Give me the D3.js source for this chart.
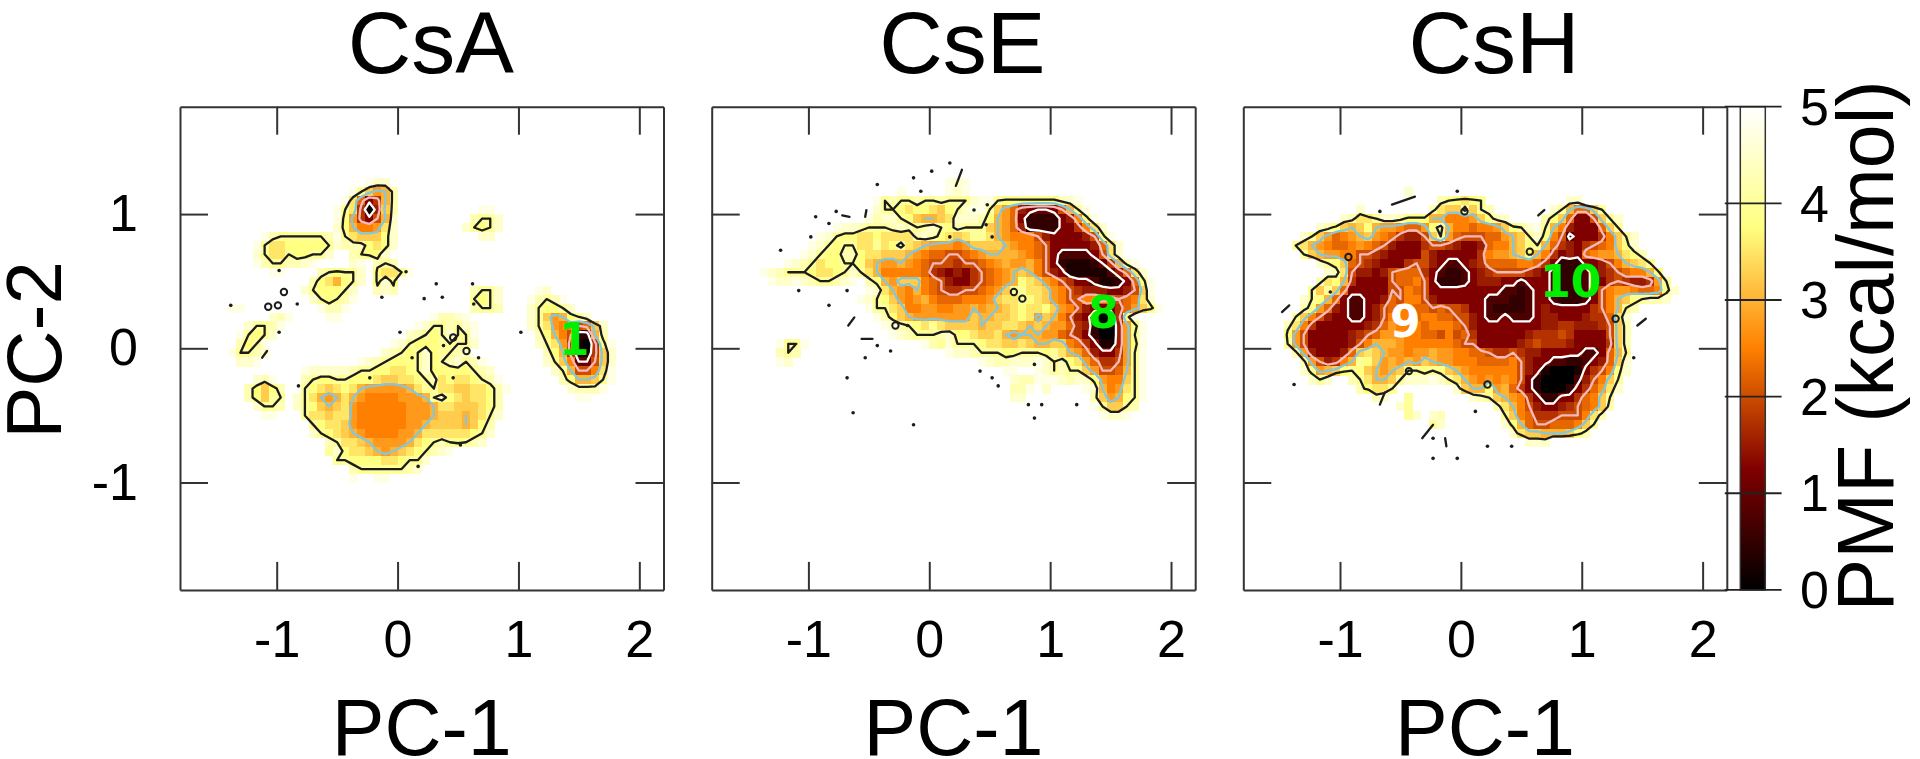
<!DOCTYPE html>
<html>
  <head>
    <meta charset="utf-8" />
    <title>PMF maps</title>
    <script src="https://d3js.org/d3.v7.min.js"></script>
    <style>
      html, body { margin: 0; background: #fff; }
      svg { display: block; }
      text { font-family: "Liberation Sans", sans-serif; fill: #000; }
      .frame path, .frame line { stroke: #333; stroke-width: 2; }
      .marker { font-family: "DejaVu Sans", sans-serif; font-weight: bold; font-size: 44px; text-anchor: middle; }
    </style>
  </head>
  <body>
    <svg id="chart" width="1920" height="759"></svg>
    <script>
      // PMF cells. Each entry is [row, first column, letters],
      // a = 0 kcal/mol and each next letter adds 0.25. Row 0 is the top of the panel.
      const csaCells = [
        [8,23,"tss"],[9,21,"tqnlmr"],[10,20,"tojfhmr"],[11,19,"tqohagnr"],[11,37,"tt"],[12,19,"tplhfims"],[12,36,"rqqs"],
        [13,19,"spmkklos"],[13,35,"sqpqs"],
        [14,10,"trqqqqqqrt"],[14,20,"qonnnps"],[14,37,"ss"],[15,9,"tqoopppppqs"],[15,20,"rrrpops"],
        [16,9,"sqooqppqqs"],[16,21,"rqpps"],[17,9,"trqqrrst"],[17,21,"st"],[17,24,"rqr"],
        [18,11,"tt"],[18,17,"rqpqqs"],[18,24,"pooqt"],[19,16,"rpompqs"],[19,24,"psp"],
        [20,15,"sqpppqs"],[20,24,"rsr"],[20,36,"rqqs"],[20,44,"ts"],[21,16,"sqpqrt"],[21,36,"qpqs"],[21,43,"trqrt"],
        [22,6,"tt"],[22,17,"trrt"],[22,36,"rqqr"],[22,43,"sqppqs"],
        [23,11,"srt"],[23,18,"tt"],[23,31,"trrst"],[23,43,"sqnlmpqs"],
        [24,8,"sqqrt"],[24,29,"tsqqrqst"],[24,43,"sqolkkijns"],
        [25,7,"tqpqs"],[25,28,"srqpqsqqt"],[25,44,"rpmkiccmr"],
        [26,7,"rpqt"],[26,26,"tsqpppqqqqs"],[26,44,"sqolhbahpt"],
        [27,6,"tqqrs"],[27,25,"srqpqspqqrs"],[27,45,"rpmhbbhns"],
        [28,7,"sst"],[28,22,"tsrqpppqspqrsqrt"],[28,45,"sqnkeeins"],
        [29,15,"tsssssrqqppoopqspppppqrs"],[29,46,"sqmiikot"],
        [30,9,"srt"],[30,15,"rqppqqppponnoopqropoopqrt"],[30,47,"rpmmnqt"],
        [31,8,"rpnpr"],[31,15,"qponopomlllllmoqqoonnooprt"],[31,48,"srrrt"],
        [32,8,"rpnqq"],[32,14,"sqomlmomlkkkklllmqrponoopr"],[32,49,"tt"],
        [33,9,"sqqr"],[33,14,"sqpnmnolkkkkkklllmoonnnopr"],
        [34,10,"tt"],[34,15,"qoonoolkkkkkklllmnnnmnoqs"],
        [35,16,"qpoonlkkkkkkllmnnnnmnpr"],[36,16,"sqponmlkkkkllmoooooopqs"],
        [37,18,"rqoonmllllmopqrqpqrs"],[38,18,"qspoonmlmnopqrst"],[39,19,"qqppppoopqqs"],
        [40,21,"rqqqqqqrs"],[41,21,"t"],[41,24,"tt"]
      ];
      const cseCells = [
        [8,29,"tst"],[9,23,"t"],[9,29,"tst"],
        [10,20,"tqrqqrqqrqqqst"],[10,34,"tqppppppprst"],
        [11,20,"sqqpopponpqsttqnljgfeefimqt"],
        [12,19,"trssqpnmmnosssrpmljfccccfgkpt"],
        [13,15,"tssrqqqrsrqrsqprqqqnmljgccccffhkos"],
        [14,13,"tsqppoopoooorsrponoqqomlkkkigffffgipt"],
        [15,12,"tsqpqqooqopronmlllklnnnnmlkkjifffffgjos"],
        [16,11,"tsqpprrpoonnnmlkjjiijklmmmmlkjifddddfios"],
        [17,9,"tsrqoppqqpnmllmlkjiiihiijklmllmkifcbbbcehmrt"],
        [18,6,"tsrqqqpoopqsqomkkkkkjhgfgfhijklmnmkigfbbbbbdgjos"],
        [19,7,"tsstsrqqrst"],[19,19,"rpmlnnnkjigffhijklmponlkihffdbbcfjpt"],
        [20,19,"tsomlkmkjihhiijklnqqoonlkihgggffgint"],
        [21,18,"tsqpnlklmkjjjkkklnooqponlkiikkjjijkos"],
        [22,19,"tqqonkkllkkllmlmmnopoopnlkigfffhjlnpt"],
        [23,20,"trpnmlllllllnmmnnopolnmkigfcabhpt"],
        [24,21,"tsrqpoqonnnnmnnoonmnmlljhgcaaglpt"],
        [25,22,"tsrqqqrspponnomlmmmlljihfcaaglqt"],
        [26,8,"tqqt"],[26,26,"trqsqqqpoonnonmmnnkjhfbbglpt"],
        [27,8,"rqr"],[27,29,"tssrqqqppqqqpqomljgffhlqt"],
        [28,8,"ts"],[28,33,"tsrrssstsqrpoljhhilqt"],
        [29,36,"tt"],[29,40,"tsqrqqnliijmqt"],
        [30,37,"srrtttsrssplkknqt"],
        [31,37,"rrt"],[31,41,"s"],[31,46,"tsmkloqt"],
        [32,37,"ss"],[32,47,"rnlmpqt"],[33,47,"tqnnqr"],[34,48,"tsst"]
      ];
      const cshCells = [
        [9,20,"s"],[10,24,"rqpopq"],[10,40,"ss"],
        [11,14,"s"],[11,23,"ronnrnqr"],[11,38,"sqmjjnq"],
        [12,12,"srooqssrpppmmkkklnprs"],[12,37,"rpnjffinqs"],
        [13,9,"srpnmnpmllkjjlprmkkjkklnpqstqmkgfffjnq"],
        [14,7,"sqnljklmnlkjhgginqljiiijjlmnqspkidfffhknqs"],
        [15,6,"qomlkjjklkjigfffhiihgffgjkkmnpqmjhgfhijknps"],
        [16,7,"qnmllkkiihgffffigfffffhkllmnpmkhfgfjkllmopr"],
        [17,9,"sqpnjihgfffhiigfddfghjjjjkkjhfcccffgikmnoq"],
        [18,10,"sroiggfgijjjhfdccdfghiiiihgfdcccdfghijkkmp"],
        [19,9,"ropmhffffijjkifcccdfgggffdfffdcccdffhihgghlq"],
        [20,8,"qnqnjfffffiikjifffffffffddcdffdcccdfikllkjjkps"],
        [21,7,"sqpmjfddffgjikkigffffffdddccdffdcccdfikmnpqrrs"],
        [22,7,"rpljgfddfgijkkjjijiihffdccccdfgfffffhikmqr"],
        [23,6,"qnkigffddfgikkkjkkjjiigfddfdddfggfffghhjos"],
        [24,5,"rokhffffffghjlkkkjkkkjigffffffffgghhggghinr"],
        [25,5,"plifffffghijlllkkjjikijhffffffghhhihffffinr"],
        [26,5,"qlifffffgikmmmlkkkkkkjiifffffghihhhgffffhnr"],
        [27,6,"rlgfffgjnonmllkllmllkkjjihhihggfffffddfjmq"],
        [28,7,"rlighkmqpnlmlmlnmllkkkjjjjkigffddccdfgjns"],
        [29,7,"splmnpqpnmlmnqqpqpnmlkkkkkkigfbaaabfhikps"],
        [30,8,"sqs"],[30,13,"rqommnqssstsqomlklklkifcaaaadgiknq"],
        [31,14,"rpooq"],[31,26,"snmmplmjhfcaaacfhjlos"],
        [32,16,"rs"],[32,20,"q"],[32,28,"srqnmlkhfccffhjknq"],
        [33,19,"sq"],[33,31,"romkigffghijknr"],
        [34,20,"qs"],[34,23,"sr"],[34,32,"qnkjhhhiiikor"],
        [35,23,"qs"],[35,32,"spmjiijjjknq"],
        [36,33,"sonnmmmnpr"],[37,35,"sss"]
      ];

      // tiny closed contours too small for the cell grid, in PC-1, PC-2 units
      const csaDots = [[-.98,.58],[.07,.57],[.32,.48],[.62,.48],[-.13,.38],[.22,.37],[.37,.38],[.63,.33],[-1.38,.32],[-.83,.33],[.02,.12],[-.98,.12],[1.02,.12],[.38,.02],[.12,-.07],[.67,-.07],[-.23,-.22],[.46,-.22],[-.82,-.28],[.52,-.72],[.17,-.88]];
      const csaRings = [[-.94,.42],[-1.07,.31],[-.99,.32],[.46,.08],[.57,-.02]];
      const csaDashes = [[-1.12,-.07,-1.08,-.02]];
      const cseDots = [[.17,1.38],[.02,1.32],[-.13,1.27],[-.43,1.22],[-.07,1.17],[.37,1.03],[.48,1.07],[-.94,.98],[-.77,1.02],[-.83,.93],[-.98,.83],[.47,.92],[.17,.83],[.52,.83],[-1.23,.73],[-1.08,.43],[-.68,.43],[-.83,.32],[-.18,.17],[-.53,-.07],[-.43,.02],[-.32,-.02],[.42,-.17],[.52,-.22],[.57,-.28],[-.68,-.22],[.87,-.12],[.82,-.42],[.93,-.42],[1.22,-.42],[.87,-.52],[-.63,-.48],[-.13,-.57]];
      const cseRings = [[.70,.42],[.77,.37],[-.28,.17]];
      const cseDashes = [[.27,1.33,.22,1.21],[-.52,1.03,-.53,.98],[-.67,.17,-.62,.23],[-.56,.07,-.47,.07],[-.72,.99,-.66,.98]];
      const cshDots = [[-.03,1.17],[-.67,1.02],[-1.38,-.27],[1.43,-.07],[-.23,-.67],[.12,-.47],[.22,-.73],[.42,-.73],[-.23,-.82],[-.03,-.82],[-1.08,.42]];
      const cshRings = [[.57,.72],[.03,1.02],[.22,-.27],[1.28,.22],[-.43,-.17],[-.93,.68]];
      const cshDashes = [[-.57,1.07,-.38,1.13],[.64,.99,.69,1.03],[-1.48,.27,-1.42,.32],[1.46,.17,1.53,.22],[-.13,-.67,-.12,-.73],[-.32,-.67,-.23,-.57],[-.67,-.42,-.63,-.33]];

      const panelNames = ["CsA", "CsE", "CsH"];
      const xTicks = [-1, 0, 1, 2];
      const yTicks = [-1, 0, 1];
      const barTicks = [0, 1, 2, 3, 4, 5];
      const contourLevels = [4, 3, 2, 1];
      const contourColors = ["#1c1c1c", "#85c6d8", "#f6b9bd", "#ffffff"];

      const csaMarkers = [{ name: "1", x: 1.46, y: 0.07, color: "#00ee00" }];
      const cseMarkers = [{ name: "8", x: 1.44, y: 0.27, color: "#00ee00" }];
      const cshMarkers = [{ name: "9", x: -0.46, y: 0.2, color: "#ffffff" },
                          { name: "10", x: 0.91, y: 0.5, color: "#00ee00" }];

      const nCols = 60, nRows = 54;
      const panelLefts = [180, 711.7, 1243.3];
      const panelWidth = 483.5;
      const plotTop = 106.7, plotBottom = 589.9;

      const svg = d3.select("#chart");

      const defs = svg.append("defs");
      defs.append("filter").attr("id", "soft")
          .append("feGaussianBlur").attr("stdDeviation", 0.7);
      defs.append("filter").attr("id", "softer")
          .append("feGaussianBlur").attr("stdDeviation", 0.35);

      // afmhot-like palette, 0 to 5 kcal/mol
      const pmfStops = [0, 1.25, 2.5, 3.75, 5];
      const pmfColors = ["#000000", "#800000", "#ff8000", "#ffff80", "#ffffff"];
      const color = d3.scaleLinear().domain(pmfStops).range(pmfColors).clamp(true);

      const y = d3.scaleLinear().domain([1.8, -1.8]).range([plotTop, plotBottom]);
      const rowY = d3.scaleLinear().domain([0, nRows]).range([plotTop, plotBottom]);

      function drawPanel(index, cells, dots, rings, dashes, markers) {
        const left = panelLefts[index];
        const x = d3.scaleLinear().domain([-1.8, 2.2]).range([left, left + panelWidth]);
        const colX = d3.scaleLinear().domain([0, nCols]).range([left, left + panelWidth]);

        // expand cells to a full grid, empty cells are above the colour range
        const grid = new Array(nCols * nRows).fill(6);
        const filled = [];
        cells.forEach(([row, col, letters]) => {
          for (let i = 0; i < letters.length; i++) {
            const v = (letters.charCodeAt(i) - 97) * 0.25;
            grid[row * nCols + col + i] = v;
            filled.push({ row, col: col + i, v });
          }
        });

        svg.append("g").attr("filter", "url(#soft)")
           .attr("shape-rendering", "crispEdges")
           .selectAll("rect").data(filled).enter().append("rect")
             .attr("x", d => colX(d.col))
             .attr("y", d => rowY(d.row))
             .attr("width", colX(1) - colX(0) + 0.5)
             .attr("height", rowY(1) - rowY(0) + 0.5)
             .attr("fill", d => color(d.v));

        // contours are built on the negated field so that low PMF is "inside"
        const contours = d3.contours().size([nCols, nRows]);
        const project = d3.geoTransform({
          point(px, py) { this.stream.point(colX(px), rowY(py)); }
        });
        const path = d3.geoPath(project);
        const negated = grid.map(v => -v);

        const lines = svg.append("g").attr("fill", "none").attr("stroke-width", 2.3)
                         .attr("stroke-linejoin", "round").attr("filter", "url(#softer)");
        contourLevels.forEach((level, i) => {
          lines.append("path")
               .attr("d", path(contours.contour(negated, -level)))
               .attr("stroke", contourColors[i]);
        });

        const speck = svg.append("g").attr("filter", "url(#softer)");
        speck.selectAll("circle.dot").data(dots).enter().append("circle")
             .attr("class", "dot").attr("cx", d => x(d[0])).attr("cy", d => y(d[1]))
             .attr("r", 1.8).attr("fill", contourColors[0]);
        speck.selectAll("circle.ring").data(rings).enter().append("circle")
             .attr("class", "ring").attr("cx", d => x(d[0])).attr("cy", d => y(d[1]))
             .attr("r", 3.2).attr("fill", "none").attr("stroke", contourColors[0]).attr("stroke-width", 2);
        speck.selectAll("line").data(dashes).enter().append("line")
             .attr("x1", d => x(d[0])).attr("y1", d => y(d[1]))
             .attr("x2", d => x(d[2])).attr("y2", d => y(d[3]))
             .attr("stroke", contourColors[0]).attr("stroke-width", 2.3).attr("stroke-linecap", "round");

        svg.append("g").selectAll("text").data(markers).enter().append("text")
           .attr("class", "marker")
           .attr("x", d => x(d.x)).attr("y", d => y(d.y)).attr("dy", "0.36em")
           .style("fill", d => d.color)
           .text(d => d.name);

        // frame: ticks point inwards on all four sides
        const bottomAxis = d3.axisBottom(x).tickValues(xTicks).tickSizeInner(-28).tickSizeOuter(0)
                             .tickPadding(30).tickFormat(d => d);
        const topAxis = d3.axisTop(x).tickValues(xTicks).tickSizeInner(-28).tickSizeOuter(0).tickFormat("");
        const leftAxis = d3.axisLeft(y).tickValues(yTicks).tickSizeInner(-28).tickSizeOuter(0)
                           .tickPadding(42).tickFormat(d => d);
        const rightAxis = d3.axisRight(y).tickValues(yTicks).tickSizeInner(-28).tickSizeOuter(0).tickFormat("");

        const g = svg.append("g").attr("class", "frame");
        g.append("g").attr("transform", `translate(0,${plotBottom})`).call(bottomAxis);
        g.append("g").attr("transform", `translate(0,${plotTop})`).call(topAxis);
        g.append("g").attr("transform", `translate(${left},0)`).call(index === 0 ? leftAxis : leftAxis.tickFormat(""));
        g.append("g").attr("transform", `translate(${left + panelWidth},0)`).call(rightAxis);
        g.selectAll("text").style("font-size", "52px").style("font-family", "'Liberation Sans', sans-serif").style("fill", "#000");

        svg.append("text").attr("x", left + panelWidth / 2 + 9).attr("y", 73)
           .attr("text-anchor", "middle").style("font-size", "88px").text(panelNames[index]);
        svg.append("text").attr("x", left + panelWidth / 2).attr("y", 755)
           .attr("text-anchor", "middle").style("font-size", "79px").text("PC-1");
      }

      drawPanel(0, csaCells, csaDots, csaRings, csaDashes, csaMarkers);
      drawPanel(1, cseCells, cseDots, cseRings, cseDashes, cseMarkers);
      drawPanel(2, cshCells, cshDots, cshRings, cshDashes, cshMarkers);

      svg.append("text")
         .attr("transform", `translate(61,350) rotate(-90)`)
         .attr("text-anchor", "middle").style("font-size", "78px").text("PC-2");

      // colour bar
      const barY = d3.scaleLinear().domain([0, 5]).range([plotBottom, plotTop]);
      const gradient = defs.append("linearGradient").attr("id", "pmfBar")
                           .attr("x1", 0).attr("y1", 1).attr("x2", 0).attr("y2", 0);
      pmfStops.forEach((s, i) => {
        gradient.append("stop").attr("offset", s / 5).attr("stop-color", pmfColors[i]);
      });
      svg.append("rect").attr("x", 1740.3).attr("y", plotTop).attr("width", 25).attr("height", plotBottom - plotTop)
         .attr("fill", "url(#pmfBar)").attr("stroke", "#333").attr("stroke-width", 1.5);
      svg.append("g").selectAll("line").data(barTicks).enter().append("line")
         .attr("x1", 1724.8).attr("x2", 1781.6)
         .attr("y1", d => barY(d)).attr("y2", d => barY(d))
         .attr("stroke", "#222").attr("stroke-width", 1.8);
      svg.append("g").selectAll("text").data(barTicks).enter().append("text")
         .attr("x", 1800).attr("y", d => barY(d)).attr("dy", "0.35em")
         .style("font-size", "52px").text(d => d);
      svg.append("text")
         .attr("transform", `translate(1893,346) rotate(-90)`)
         .attr("text-anchor", "middle").style("font-size", "79px").text("PMF (kcal/mol)");
    </script>
  </body>
</html>
